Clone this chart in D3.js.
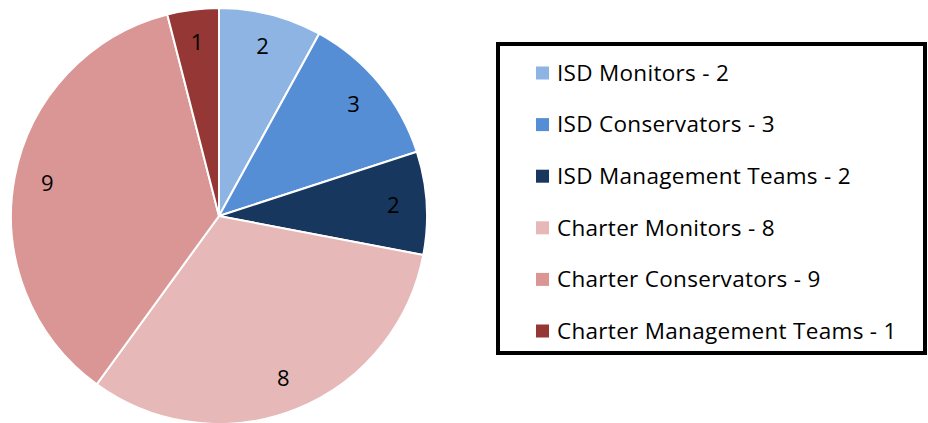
<!DOCTYPE html>
<html>
<head>
<meta charset="utf-8">
<script src="https://cdn.jsdelivr.net/npm/d3@7"></script>
<style>
  body { margin: 0; background: #fff; }
  svg { display: block; font-family: "Open Sans", "Liberation Sans", sans-serif; }
</style>
</head>
<body>
<svg id="chart" width="928" height="423"></svg>
<script>
var categories = ["ISD Monitors", "ISD Conservators", "ISD Management Teams",
                  "Charter Monitors", "Charter Conservators", "Charter Management Teams"];
var counts = [2, 3, 2, 8, 9, 1];
var colors = ["#8EB4E3", "#558ED5", "#17375E", "#E6B9B8", "#D99694", "#953735"];

var svg = d3.select("#chart");
var cx = 219, cy = 216, r = 208;

var data = categories.map(function(c, i) { return { name: c, value: counts[i], color: colors[i] }; });

var pie = d3.pie().sort(null).value(function(d) { return d.value; });
var arc = d3.arc().innerRadius(0).outerRadius(r);
var labelArc = d3.arc().innerRadius(r * 0.84).outerRadius(r * 0.84);

var g = svg.append("g").attr("transform", "translate(" + cx + "," + cy + ")");

var slices = g.selectAll("g.slice").data(pie(data)).enter().append("g").attr("class", "slice");

slices.append("path")
  .attr("d", arc)
  .attr("fill", function(d) { return d.data.color; })
  .attr("stroke", "#fff")
  .attr("stroke-width", 2);

slices.append("text")
  .attr("transform", function(d) { return "translate(" + labelArc.centroid(d) + ")"; })
  .attr("text-anchor", "middle")
  .attr("dy", "0.35em")
  .attr("font-size", 22)
  .attr("fill", "#000")
  .text(function(d) { return d.data.value; });

// legend
var lx = 498, ly = 44, lw = 427, lh = 309;
svg.append("rect")
  .attr("x", lx).attr("y", ly)
  .attr("width", lw).attr("height", lh)
  .attr("fill", "#fff")
  .attr("stroke", "#000")
  .attr("stroke-width", 4);

var ly0 = d3.scalePoint().domain(categories).range([73, 331]);

var items = svg.selectAll("g.leg").data(data).enter().append("g")
  .attr("class", "leg")
  .attr("transform", function(d) { return "translate(0," + ly0(d.name) + ")"; });

items.append("rect")
  .attr("x", 536).attr("y", -6.5)
  .attr("width", 13).attr("height", 13)
  .attr("fill", function(d) { return d.color; });

items.append("text")
  .attr("x", 557)
  .attr("dy", "0.35em")
  .attr("font-size", 22.5)
  .attr("letter-spacing", 0.3)
  .attr("fill", "#000")
  .text(function(d) { return d.name + " - " + d.value; });
</script>
</body>
</html>
